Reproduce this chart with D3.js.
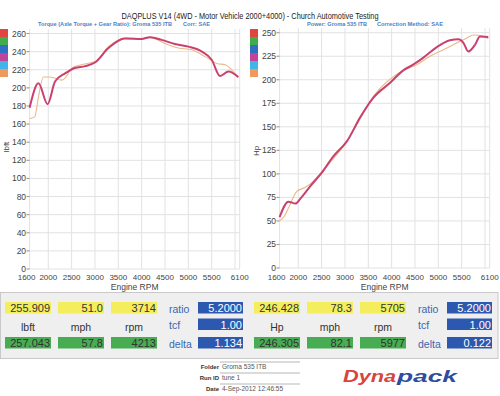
<!DOCTYPE html>
<html>
<head>
<meta charset="utf-8">
<script src="https://cdn.jsdelivr.net/npm/d3@7"></script>
<style>
  html, body { margin: 0; padding: 0; background: #fff; }
  svg { display: block; font-family: "Liberation Sans", Arial, sans-serif; }
</style>
</head>
<body>
<svg id="chart" width="500" height="396"></svg>
<script>
// ---- data ----
var rpmTicks = [1600, 2000, 2500, 3000, 3500, 4000, 4500, 5000, 5500, 6100];
var rpmGrid = [1600, 2000, 2500, 3000, 3500, 4000, 4500, 5000, 5500, 6000, 6100];
var torqueTicks = [0, 20, 40, 60, 80, 100, 120, 140, 160, 180, 200, 220, 240, 260];
var powerTicks = [0, 25, 50, 75, 100, 125, 150, 175, 200, 225, 250];
var legendColors = ['#e0453f', '#3fae4a', '#2f6fc4', '#c2449a', '#41b5e8', '#ef9a5a'];

var torqueMainRpm = [1600, 1790, 1985, 2145, 2360, 2570, 2790, 3000, 3290, 3640, 4000, 4180, 4430, 4710, 5000, 5290, 5500, 5680, 5860, 6070];
var torqueMain = [178, 205, 182, 207, 216, 222, 224, 228, 244, 254.5, 254, 256, 253, 248.5, 245.5, 240, 231, 213, 218, 212];
var torqueAltRpm = [1600, 1710, 1790, 1895, 2040, 2290, 2540, 2750, 3000, 3290, 3640, 4000, 4180, 4500, 4790, 5070, 5360, 5610, 5790, 6070];
var torqueAlt = [166, 168, 190, 212, 212, 208.5, 223, 226, 229, 245.5, 255, 254.5, 256, 249, 244, 242, 234.5, 227, 225.5, 211];

var powerMainRpm = [1600, 1790, 1940, 2050, 2250, 2500, 2750, 3040, 3320, 3610, 3960, 4250, 4460, 4680, 4960, 5250, 5430, 5540, 5640, 5790, 5890, 6070];
var powerMain = [54, 70.5, 68.5, 74, 86.5, 101, 118.5, 134.5, 159.5, 181, 196.5, 210, 216, 223.5, 234.5, 242, 243, 239, 230, 237.5, 246, 245.5];
var powerAltRpm = [1600, 1700, 1820, 1960, 2140, 2250, 2500, 3040, 3610, 4250, 4540, 4820, 5110, 5390, 5610, 5750, 5960, 6070];
var powerAlt = [50, 55, 67, 81, 85.5, 89, 102, 134.5, 182.5, 210, 216, 225, 232, 239, 244.5, 247.5, 246.5, 243.5];

var leftTop = ['255.909', '51.0', '3714'];
var leftBottom = ['257.043', '57.8', '4213'];
var leftUnits = ['lbft', 'mph', 'rpm'];
var leftFactors = ['5.2000', '1.00', '1.134'];
var rightTop = ['246.428', '78.3', '5705'];
var rightBottom = ['246.305', '82.1', '5977'];
var rightUnits = ['Hp', 'mph', 'rpm'];
var rightFactors = ['5.2000', '1.00', '0.122'];
var factorNames = ['ratio', 'tcf', 'delta'];
var infoLabels = ['Folder', 'Run ID', 'Date'];
var infoValues = ['Groma 535 ITB', 'tune 1', '4-Sep-2012 12:46:55'];

(function() {
  var svg = d3.select('#chart');

  // title + sub captions
  svg.append('text').attr('x', 250).attr('y', 19).attr('text-anchor', 'middle')
    .attr('font-size', 9.5).attr('fill', '#222')
    .attr('textLength', 257).attr('lengthAdjust', 'spacingAndGlyphs')
    .text('DAQPLUS V14 (4WD - Motor Vehicle 2000+4000) - Church Automotive Testing');

  var subs = [
    {x: 38, w: 134, t: 'Torque (Axle Torque + Gear Ratio): Groma 535 ITB'},
    {x: 183, w: 27, t: 'Corr: SAE'},
    {x: 307, w: 60, t: 'Power: Groma 535 ITB'},
    {x: 377, w: 66, t: 'Correction Method: SAE'}
  ];
  svg.selectAll('text.sub').data(subs).enter().append('text')
    .attr('class', 'sub').attr('x', function(d) { return d.x; }).attr('y', 26)
    .attr('font-size', 6).attr('font-weight', 'bold').attr('fill', '#4f7fc8')
    .attr('textLength', function(d) { return d.w; }).attr('lengthAdjust', 'spacingAndGlyphs')
    .text(function(d) { return d.t; });

  function drawPanel(opts) {
    var g = svg.append('g');
    var x = d3.scaleLinear().domain([1600, 6100]).range([opts.x0, opts.x0 + 210.1]);
    var y = d3.scaleLinear().domain([0, opts.ymax]).range([opts.ybot, opts.ytop]);

    // legend swatches
    g.selectAll('rect.sw').data(legendColors).enter().append('rect')
      .attr('x', opts.swX).attr('y', function(d, i) { return 29 + i * 8; })
      .attr('width', 8).attr('height', 8).attr('fill', function(d) { return d; });

    // grid
    g.selectAll('line.hg').data(opts.yTicks).enter().append('line')
      .attr('x1', x(1600) - 3).attr('x2', x(6100))
      .attr('y1', function(d) { return y(d); }).attr('y2', function(d) { return y(d); })
      .attr('stroke', '#e2e2e2').attr('stroke-width', 1);
    g.selectAll('line.vg').data(rpmGrid).enter().append('line')
      .attr('x1', function(d) { return x(d); }).attr('x2', function(d) { return x(d); })
      .attr('y1', y(0)).attr('y2', opts.ytop)
      .attr('stroke', '#e2e2e2').attr('stroke-width', 1);
    g.selectAll('line.tk').data(opts.yTicks).enter().append('line')
      .attr('x1', x(1600) - 3).attr('x2', x(1600))
      .attr('y1', function(d) { return y(d); }).attr('y2', function(d) { return y(d); })
      .attr('stroke', '#999');

    // tick labels
    g.selectAll('text.yl').data(opts.yTicks).enter().append('text')
      .attr('x', x(1600) - 3.5).attr('y', function(d) { return y(d) + 3; })
      .attr('text-anchor', 'end').attr('font-size', 8.5).attr('fill', '#444')
      .text(function(d) { return d; });
    g.selectAll('text.xl').data(rpmTicks).enter().append('text')
      .attr('x', function(d) { return d === 1600 ? x(d) - 3 : x(d); }).attr('y', 279.5)
      .attr('text-anchor', 'middle').attr('font-size', 8).attr('fill', '#444')
      .text(function(d) { return d; });

    g.append('text').attr('x', x(3850)).attr('y', 289.5).attr('text-anchor', 'middle')
      .attr('font-size', 8.5).attr('fill', '#444').text('Engine RPM');
    g.append('text').attr('transform', 'translate(' + opts.labX + ',' + opts.labY + ') rotate(-90)')
      .attr('text-anchor', 'middle').attr('font-size', 8).attr('fill', '#444').text(opts.unit);

    var line = d3.line().curve(d3.curveMonotoneX)
      .x(function(d) { return x(d[0]); }).y(function(d) { return y(d[1]); });

    g.append('path').datum(d3.zip(opts.altRpm, opts.alt)).attr('d', line)
      .attr('fill', 'none').attr('stroke', '#e9b889').attr('stroke-width', 1.1);
    g.append('path').datum(d3.zip(opts.mainRpm, opts.main)).attr('d', line)
      .attr('fill', 'none').attr('stroke', '#c9416f').attr('stroke-width', 2);
  }

  drawPanel({x0: 29.6, ymax: 265, ybot: 269, ytop: 29, yTicks: torqueTicks, swX: 0,
    labX: 9, labY: 147, unit: 'lbft',
    mainRpm: torqueMainRpm, main: torqueMain, altRpm: torqueAltRpm, alt: torqueAlt});
  drawPanel({x0: 279.6, ymax: 255, ybot: 268, ytop: 28, yTicks: powerTicks, swX: 250,
    labX: 259, labY: 151, unit: 'Hp',
    mainRpm: powerMainRpm, main: powerMain, altRpm: powerAltRpm, alt: powerAlt});

  // readout strip
  svg.append('rect').attr('x', 0.5).attr('y', 292.5).attr('width', 497.5).attr('height', 66)
    .attr('fill', '#efefef').attr('stroke', '#c9c9c9');

  function readout(x0, top, bottom, units, factors) {
    var boxX = [x0 + 5, x0 + 58, x0 + 111];
    var g = svg.append('g');
    [{vals: top, y: 302, fill: '#f4ee5e'}, {vals: bottom, y: 337, fill: '#48ad52'}].forEach(function(row) {
      row.vals.forEach(function(v, i) {
        g.append('rect').attr('x', boxX[i]).attr('y', row.y).attr('width', 46).attr('height', 11.5).attr('fill', row.fill);
        g.append('text').attr('x', boxX[i] + 45).attr('y', row.y + 10).attr('text-anchor', 'end')
          .attr('font-size', 11).attr('fill', '#333').text(v);
      });
    });
    units.forEach(function(u, i) {
      g.append('text').attr('x', boxX[i] + 23).attr('y', 330.5).attr('text-anchor', 'middle')
        .attr('font-size', 10.5).attr('fill', '#333').text(u);
    });
    var fy = [302, 318.5, 337];
    factors.forEach(function(f, i) {
      g.append('text').attr('x', x0 + 169).attr('y', fy[i] + 10.5)
        .attr('font-size', 10.5).attr('fill', '#3a66b0').text(factorNames[i]);
      g.append('rect').attr('x', x0 + 198).attr('y', fy[i]).attr('width', 45).attr('height', 11.5).attr('fill', '#2c58b0');
      g.append('text').attr('x', x0 + 242).attr('y', fy[i] + 10).attr('text-anchor', 'end')
        .attr('font-size', 11).attr('fill', '#fff').text(f);
    });
  }
  readout(0, leftTop, leftBottom, leftUnits, leftFactors);
  readout(249, rightTop, rightBottom, rightUnits, rightFactors);

  // run info
  infoLabels.forEach(function(l, i) {
    var yy = 369 + i * 11;
    svg.append('line').attr('x1', 220).attr('x2', 300).attr('y1', yy - 7).attr('y2', yy - 7).attr('stroke', '#999').attr('stroke-width', 0.7);
    svg.append('text').attr('x', 219).attr('y', yy).attr('text-anchor', 'end').attr('font-size', 6)
      .attr('font-weight', 'bold').attr('fill', '#333').text(l);
    svg.append('text').attr('x', 222).attr('y', yy).attr('font-size', 6.5).attr('fill', '#555').text(infoValues[i]);
  });

  // logo
  svg.append('text').attr('x', 343).attr('y', 382).attr('font-size', 17).attr('font-weight', 'bold')
    .attr('font-style', 'italic').attr('fill', '#d8453c')
    .attr('textLength', 53).attr('lengthAdjust', 'spacingAndGlyphs').text('Dyna');
  svg.append('text').attr('x', 397).attr('y', 382).attr('font-size', 17).attr('font-weight', 'bold')
    .attr('font-style', 'italic').attr('fill', '#2f4d9f')
    .attr('textLength', 60).attr('lengthAdjust', 'spacingAndGlyphs').text('pack');
})();
</script>
</body>
</html>
